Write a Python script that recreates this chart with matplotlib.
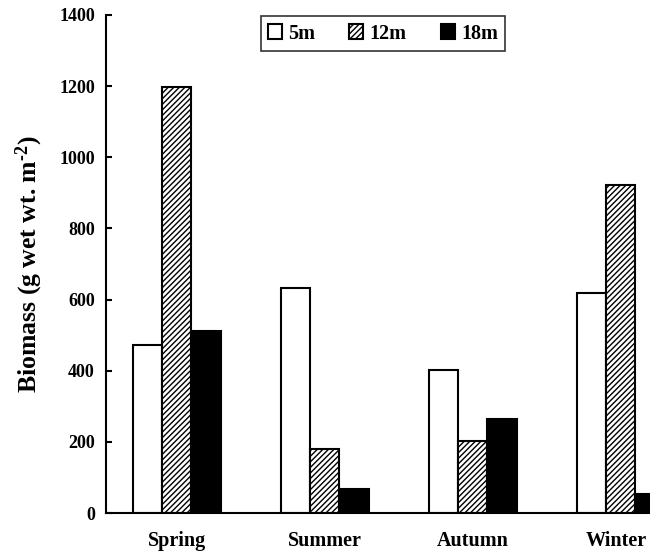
import numpy as np
import matplotlib
matplotlib.use("Agg")
import matplotlib.pyplot as plt
import matplotlib.transforms as mtransforms

seasons = ["Spring", "Summer", "Autumn", "Winter"]
depths = ["5m", "12m", "18m"]
biomass_5m = [473, 632, 401, 618]
biomass_12m = [1197, 181, 201, 922]
biomass_18m = [511, 68, 265, 54]

plt.rcParams['font.family'] = ['Liberation Serif', 'DejaVu Serif']
plt.rcParams['font.weight'] = 'bold'
plt.rcParams['mathtext.fontset'] = 'custom'
plt.rcParams['mathtext.rm'] = 'Liberation Serif:bold'
plt.rcParams['mathtext.default'] = 'rm'
plt.rcParams['hatch.linewidth'] = 1.0

fig = plt.figure(figsize=(6.5, 5.54), dpi=100)
ax = fig.add_axes([0.163, 0.074, 0.837, 0.899])

x = np.arange(len(seasons))
w = 0.196
ax.bar(x - w, biomass_5m, w, color="white", edgecolor="black", linewidth=1.5, label=depths[0])
ax.bar(x, biomass_12m, w, color="white", edgecolor="black", linewidth=1.5, hatch="//////", label=depths[1])
ax.bar(x + w, biomass_18m, w, color="black", edgecolor="black", linewidth=1.5, label=depths[2])

ax.set_ylim(0, 1400)
ax.set_xlim(-0.48, 3.196)
ax.set_yticks(range(0, 1401, 200))
ax.set_xticks(x)
ax.set_xticklabels(seasons, fontsize=14.5, fontweight='bold')
ax.tick_params(axis='x', length=0, pad=13)
ax.tick_params(axis='y', direction='in', length=4, width=1.5, labelsize=13, pad=8)
# nudge the last category label so it stays inside the figure
lab = ax.get_xticklabels()[-1]
lab.set_transform(lab.get_transform() + mtransforms.ScaledTranslation(-5 / 100, 0, fig.dpi_scale_trans))
for s in ["top", "right"]:
    ax.spines[s].set_visible(False)
for s in ["left", "bottom"]:
    ax.spines[s].set_linewidth(1.5)
ax.set_ylabel("Biomass (g wet wt. m$^{\u20102}$)", fontsize=18.5, fontweight='bold', labelpad=10)

leg = ax.legend(loc="upper center", bbox_to_anchor=(0.509, 0.997), ncol=3, fontsize=14.5,
                frameon=True, fancybox=False, edgecolor="black", handlelength=0.7,
                handleheight=0.7, handletextpad=0.3, columnspacing=1.7, borderpad=0.35,
                borderaxespad=0)
leg.get_frame().set_linewidth(1.2)

plt.savefig("out.png", dpi=100)
